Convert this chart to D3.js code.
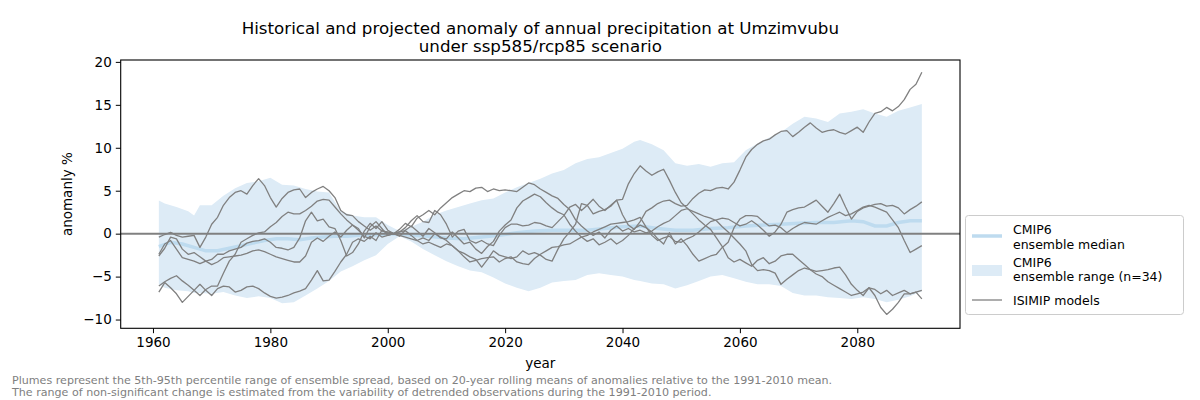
<!DOCTYPE html>
<html>
<head>
<meta charset="utf-8">
<script src="https://cdn.jsdelivr.net/npm/d3@7"></script>
<style>
  body { margin: 0; background: #fff; }
  svg { display: block; font-family: "DejaVu Sans", sans-serif; }
</style>
</head>
<body>
<svg width="1200" height="400"></svg>
<script>
// annual values, 1961..2091
const years = [
  1961,1962,1963,1964,1965,1966,1967,1968,1969,1970,1971,1972,1973,1974,1975,1976,1977,1978,1979,1980,
  1981,1982,1983,1984,1985,1986,1987,1988,1989,1990,1991,1992,1993,1994,1995,1996,1997,1998,1999,2000,
  2001,2002,2003,2004,2005,2006,2007,2008,2009,2010,2011,2012,2013,2014,2015,2016,2017,2018,2019,2020,
  2021,2022,2023,2024,2025,2026,2027,2028,2029,2030,2031,2032,2033,2034,2035,2036,2037,2038,2039,2040,
  2041,2042,2043,2044,2045,2046,2047,2048,2049,2050,2051,2052,2053,2054,2055,2056,2057,2058,2059,2060,
  2061,2062,2063,2064,2065,2066,2067,2068,2069,2070,2071,2072,2073,2074,2075,2076,2077,2078,2079,2080,
  2081,2082,2083,2084,2085,2086,2087,2088,2089,2090,2091
];

const isimip1 = [
  -0.4,-0.1,0.15,-0.2,-0.4,-0.3,-0.2,-1.6,-0.4,1.1,1.9,3.3,4.2,4.8,5.0,4.6,5.6,6.4,5.6,4.2,
  3.1,4.1,4.8,5.1,5.2,4.2,4.8,5.2,5.5,5.0,4.2,2.7,2.2,2.1,1.4,0.9,0.4,0.9,0.3,0.2,
  0,0.5,1.2,0.8,1.8,2.2,2.7,2.2,3.0,3.6,4.2,4.6,5.0,4.9,5.3,5.4,4.9,5.2,5.0,5.1,
  5.0,4.9,5.4,5.9,5.7,5.2,4.8,4.4,4.1,3.4,2.8,1.6,0.9,0.3,-0.2,0.2,-0.5,0.4,0.9,0.3,
  0.6,0.2,0.4,0.1,0.3,0.8,1.2,1.5,2.1,2.7,2.9,2.6,2.3,2.0,1.8,1.5,0.8,0.2,-0.5,-1.2,
  -2.0,-3.6,-4.3,-4.2,-4.3,-4.6,-5.9,-5.3,-4.8,-4.3,-4.0,-4.2,-4.4,-4.3,-4.2,-4.0,-3.9,-4.8,-5.9,-6.6,
  -7.2,-6.3,-6.5,-7.0,-6.6,-7.2,-6.9,-6.6,-7.0,-6.8,-6.6
];
const isimip2 = [
  -6.1,-5.6,-5.2,-4.9,-5.5,-6.0,-6.6,-7.2,-6.5,-6.1,-6.1,-4.6,-3.2,-2.4,-1.0,-0.6,-0.2,0.1,0.2,0.8,
  1.3,2.0,2.5,2.3,2.3,2.7,3.2,3.8,4.0,3.9,3.1,2.3,1.6,1.0,0.4,-0.3,-0.6,0.1,-0.4,-0.2,
  0,-0.3,0.4,0.9,0.3,-0.3,0.6,0.1,-0.5,-0.6,0.2,-0.5,-1.2,-1.0,-1.8,-2.3,-1.5,-0.9,0.3,1.0,
  1.6,3.0,3.8,4.2,4.6,4.3,3.6,3.0,2.5,2.2,1.1,0.3,-0.4,-0.9,-0.6,-1.3,-1.0,-0.6,-1.2,-0.8,
  -0.2,0.6,1.0,0.7,0.2,-0.6,-1.2,0.1,-1.2,-0.6,-1.4,-2.4,-3.2,-2.9,-2.6,-2.4,-1.6,-1.0,0.7,1.7,
  2.1,2.1,2.0,1.4,0.9,1.0,0.7,0.1,0.6,1.0,1.3,1.2,1.1,1.5,1.9,2.2,2.5,2.1,2.3,2.7,
  3.1,3.3,3.1,2.8,2.5,1.6,0.7,-0.8,-2.2,-1.8,-1.4
];
const isimip3 = [
  -2.4,-1.2,-0.8,-1.8,-2.8,-3.0,-3.2,-3.5,-3.2,-3.0,-2.4,-2.4,-2.0,-1.8,-1.6,-1.1,-0.9,-0.8,-0.6,-1.0,
  -1.6,-1.7,-1.9,-1.6,-0.5,1.5,2.5,1.5,1.7,0.8,0.6,-0.8,-2.6,-2.2,-1.2,0.3,1.2,0.6,1.4,0.4,
  0,0.2,0.7,1.5,2.1,1.4,1.3,2.7,2.2,1.1,-0.4,0.3,0.5,-0.8,-1.1,-0.8,-1.2,-1.4,-0.2,0.7,
  1.1,1.1,0.9,1.0,1.3,1.2,0.9,0.7,1.4,2.1,3.1,3.4,2.7,3.3,4.0,3.2,2.7,3.3,3.9,2.2,
  1.0,0.5,1.4,2.6,3.0,3.5,3.8,3.9,3.5,3.2,3.3,4.1,4.7,5.1,5.0,5.3,5.4,5.2,6.0,7.4,
  8.9,9.8,10.4,10.8,11.0,11.5,11.9,12.0,11.3,11.8,12.4,12.9,12.3,11.8,12.0,12.1,11.8,11.6,12.0,12.4,
  11.8,13.0,14.0,14.2,14.7,14.3,14.8,15.6,16.8,17.4,18.8
];
const isimip4 = [
  -2.6,-1.7,-0.4,-0.6,-1.8,-2.4,-2.2,-2.7,-3.2,-3.6,-3.3,-2.8,-2.7,-2.6,-2.5,-2.3,-2.0,-1.9,-2.1,-2.4,
  -2.7,-2.9,-3.1,-3.3,-3.3,-2.6,-1.0,-0.5,-0.9,-0.3,0.2,-0.4,0.4,1.0,0.6,-0.5,0.8,1.4,0.6,-0.2,
  0,-0.2,-0.4,-0.6,-0.8,-0.5,-0.8,0,-0.4,-0.8,-1.4,-2.0,-2.3,-2.7,-3.0,-3.9,-3.0,-2.0,-2.5,-2.7,
  -2.9,-2.7,-2.0,-2.4,-2.2,-2.5,-3.0,-3.2,-1.8,-0.6,0.2,1.1,3.5,3.3,2.3,2.6,2.8,3.2,3.9,4.0,
  5.8,7.0,7.9,7.3,6.8,7.2,7.5,6.2,4.8,3.6,3.0,2.3,1.6,1.0,0.5,-0.5,-1.5,-2.8,-3.3,-3.0,
  -3.4,-3.8,-3.1,-2.8,-3.5,-3.2,-2.6,-2.4,-2.4,-3.0,-3.6,-4.2,-4.7,-5.0,-5.6,-6.0,-6.4,-6.8,-7.2,-7.0,
  -6.8,-6.3,-7.2,-8.6,-9.4,-8.8,-8.0,-7.0,-7.0,-6.8,-7.6
];
const isimip5 = [
  -6.8,-5.7,-6.3,-7.0,-8.0,-7.3,-6.6,-5.9,-6.6,-7.2,-6.4,-6.1,-6.2,-6.8,-6.6,-6.2,-6.1,-6.4,-6.9,-7.3,
  -7.5,-7.4,-7.2,-6.9,-6.7,-6.4,-5.4,-4.3,-5.5,-5.4,-4.4,-3.3,-2.4,-1.0,-0.6,-0.9,-0.3,-0.8,0.4,0.1,
  0,0.2,0.35,-0.2,-0.8,-1.2,-1.0,-1.3,-1.6,-1.2,-1.4,-2.0,-2.7,-3.3,-3.1,-2.9,-2.8,-2.7,-3.3,-2.9,
  -2.7,-3.3,-3.5,-3.6,-2.9,-2.4,-2.0,-1.6,-1.5,-1.3,-1.2,-0.8,-0.4,-0.2,0.2,0.5,0.8,1.1,1.2,1.3,
  1.4,1.6,1.9,0.8,-0.2,-0.8,-0.5,-0.3,-0.9,-1.0,-0.6,-0.3,0.2,0.8,1.4,1.6,1.8,1.7,1.3,0.9,
  1.1,1.5,1.0,0.4,-0.3,0.2,1.1,2.5,2.8,3.0,3.1,3.5,3.9,3.2,2.5,3.5,4.6,3.1,1.7,2.6,
  3.0,3.2,3.4,3.5,3.2,3.3,3.0,2.3,2.8,3.2,3.7
];

// CMIP6 5th-95th percentile plume
const bandYears = [
  1961,1962,1964,1966,1967,1968,1970,1972,1974,1976,1978,1980,1982,1984,1986,1988,1990,1992,1994,1996,
  1998,2000,2002,2004,2006,2008,2010,2012,2014,2016,2018,2020,2022,2024,2026,2028,2030,2032,2034,2036,
  2038,2040,2042,2043,2045,2047,2049,2051,2053,2055,2057,2059,2061,2063,2065,2067,2069,2071,2073,2075,
  2077,2079,2081,2083,2085,2087,2089,2091
];
const bandUpper = [
  3.85,3.5,3.1,2.6,2.1,3.3,3.3,4.4,5.3,5.9,6.1,6.5,5.7,5.6,5.2,4.9,4.8,2.6,2.1,1.9,
  1.9,1.0,0.3,0.8,1.4,2.2,2.7,3.1,3.5,3.9,4.1,4.8,5.4,5.9,6.4,7.0,7.4,8.2,8.7,8.9,
  9.4,9.9,10.7,10.9,10.4,9.7,8.2,7.9,8.1,7.8,8.2,8.3,9.7,10.5,11.2,11.8,12.8,13.6,13.4,13.0,
  14.0,14.2,14.5,14.0,13.6,14.3,14.7,15.1
];
const bandLower = [
  -5.9,-6.3,-6.6,-6.7,-6.9,-6.9,-7.0,-6.8,-7.2,-7.5,-7.3,-7.5,-8.1,-8.0,-7.2,-6.4,-5.5,-4.4,-3.8,-3.1,
  -2.5,-1.2,-0.3,-0.9,-1.8,-2.5,-3.2,-3.8,-4.3,-4.5,-5.1,-5.8,-6.3,-6.7,-6.3,-5.7,-5.5,-5.4,-4.8,-4.6,
  -4.8,-5.0,-5.4,-5.5,-5.8,-5.9,-6.4,-6.0,-5.5,-5.0,-4.8,-5.2,-5.6,-5.9,-5.9,-6.1,-6.9,-7.2,-7.2,-7.4,
  -7.5,-7.6,-7.4,-7.6,-8.0,-7.7,-7.3,-6.7
];

const medianYears = [
  1961,1963,1965,1967,1969,1971,1973,1975,1977,1979,1981,1983,1985,1987,1989,1991,1993,1995,1997,1999,
  2001,2004,2007,2010,2013,2016,2019,2022,2025,2028,2031,2034,2037,2040,2043,2046,2049,2052,2055,2058,
  2061,2064,2067,2070,2073,2076,2079,2081,2083,2085,2087,2089,2091
];
const medianValues = [
  -1.5,-1.0,-1.2,-1.6,-2.0,-2.0,-1.7,-1.4,-1.1,-0.8,-0.6,-0.6,-0.7,-0.5,-0.4,-0.3,-0.3,-0.2,-0.2,-0.1,
  0,-0.2,-0.3,-0.5,-0.6,-0.4,-0.2,0.1,0.3,0.4,0.4,0.4,0.6,0.8,0.9,0.6,0.4,0.4,0.6,0.7,
  0.9,1.0,1.1,1.2,1.3,1.3,1.5,1.4,0.9,0.9,1.3,1.5,1.5
];

const xTicks = [1960, 1980, 2000, 2020, 2040, 2060, 2080];
const yTicks = [-10, -5, 0, 5, 10, 15, 20];

const svg = d3.select('svg');
const plotLeft = 120.7, plotRight = 960, plotTop = 60, plotBottom = 328.3;

const x = d3.scaleLinear().domain([1954.5, 2097.5]).range([plotLeft, plotRight]);
const y = d3.scaleLinear().domain([-11.02, 20.22]).range([plotBottom, plotTop]);

const plumeColor = 'rgb(221,235,246)';
const medianColor = 'rgb(190,219,239)';
const grey = '#808080';

// plume
const band = bandYears.map((yr, i) => ({ yr, lo: bandLower[i], hi: bandUpper[i] }));
svg.append('path')
  .datum(band)
  .attr('fill', plumeColor)
  .attr('d', d3.area().x(d => x(d.yr)).y0(d => y(d.lo)).y1(d => y(d.hi)));

// median
svg.append('path')
  .datum(medianYears.map((yr, i) => [yr, medianValues[i]]))
  .attr('fill', 'none')
  .attr('stroke', medianColor)
  .attr('stroke-width', 3.5)
  .attr('d', d3.line().x(d => x(d[0])).y(d => y(d[1])));

// ISIMIP models
const line = d3.line().x(d => x(d[0])).y(d => y(d[1]));
[isimip1, isimip2, isimip3, isimip4, isimip5].forEach(vals => {
  svg.append('path')
    .datum(years.map((yr, i) => [yr, vals[i]]))
    .attr('fill', 'none')
    .attr('stroke', grey)
    .attr('stroke-width', 1.3)
    .attr('stroke-linejoin', 'round')
    .attr('d', line);
});

// zero line
svg.append('line')
  .attr('x1', plotLeft).attr('x2', plotRight)
  .attr('y1', y(0)).attr('y2', y(0))
  .attr('stroke', grey).attr('stroke-width', 2);

// axes
const xAxis = svg.append('g')
  .attr('transform', `translate(0,${plotBottom})`)
  .call(d3.axisBottom(x).tickValues(xTicks).tickFormat(d3.format('d')).tickSize(4.9).tickPadding(4));
const yAxis = svg.append('g')
  .attr('transform', `translate(${plotLeft},0)`)
  .call(d3.axisLeft(y).tickValues(yTicks).tickSize(4.9).tickPadding(4));
[xAxis, yAxis].forEach(g => {
  g.select('.domain').remove();
  g.selectAll('line').attr('stroke', '#000').attr('stroke-width', 1);
  g.selectAll('text').attr('font-size', 13.5).attr('fill', '#000').attr('font-family', '"DejaVu Sans", sans-serif');
});

// frame
svg.append('rect')
  .attr('x', plotLeft).attr('y', plotTop)
  .attr('width', plotRight - plotLeft).attr('height', plotBottom - plotTop)
  .attr('fill', 'none').attr('stroke', '#000').attr('stroke-width', 1.1);

// labels
svg.append('text')
  .attr('x', (plotLeft + plotRight) / 2).attr('y', 368)
  .attr('text-anchor', 'middle').attr('font-size', 13.5)
  .text('year');
svg.append('text')
  .attr('transform', `translate(72,${(plotTop + plotBottom) / 2}) rotate(-90)`)
  .attr('text-anchor', 'middle').attr('font-size', 13.5)
  .text('anomanly %');

const title = svg.append('text')
  .attr('text-anchor', 'middle').attr('font-size', 16.7);
title.append('tspan').attr('x', (plotLeft + plotRight) / 2).attr('y', 34)
  .text('Historical and projected anomaly of annual precipitation at Umzimvubu');
title.append('tspan').attr('x', (plotLeft + plotRight) / 2).attr('y', 52)
  .text('under ssp585/rcp85 scenario');

// footnote
const foot = svg.append('text').attr('font-size', 11.1).attr('fill', grey);
foot.append('tspan').attr('x', 12).attr('y', 384)
  .text('Plumes represent the 5th-95th percentile range of ensemble spread, based on 20-year rolling means of anomalies relative to the 1991-2010 mean.');
foot.append('tspan').attr('x', 12).attr('y', 396)
  .text('The range of non-significant change is estimated from the variability of detrended observations during the 1991-2010 period.');

// legend
const lg = svg.append('g');
lg.append('rect')
  .attr('x', 965.5).attr('y', 215.5).attr('width', 218).attr('height', 99)
  .attr('rx', 3).attr('fill', '#fff').attr('fill-opacity', 0.8)
  .attr('stroke', '#cccccc');
lg.append('line').attr('x1', 972).attr('x2', 1002).attr('y1', 236).attr('y2', 236)
  .attr('stroke', medianColor).attr('stroke-width', 3.5);
lg.append('rect').attr('x', 972).attr('y', 265).attr('width', 30).attr('height', 11)
  .attr('fill', plumeColor);
lg.append('line').attr('x1', 972).attr('x2', 1002).attr('y1', 300).attr('y2', 300)
  .attr('stroke', grey).attr('stroke-width', 1.3);
const legendEntries = [
  [234, ['CMIP6', 'ensemble median']],
  [266.5, ['CMIP6', 'ensemble range (n=34)']],
  [305, ['ISIMIP models']]
];
legendEntries.forEach(([ty, lines]) => {
  lines.forEach((s, i) => {
    lg.append('text').attr('x', 1013).attr('y', ty + i * 14.7)
      .attr('font-size', 12.5).text(s);
  });
});
</script>
</body>
</html>
